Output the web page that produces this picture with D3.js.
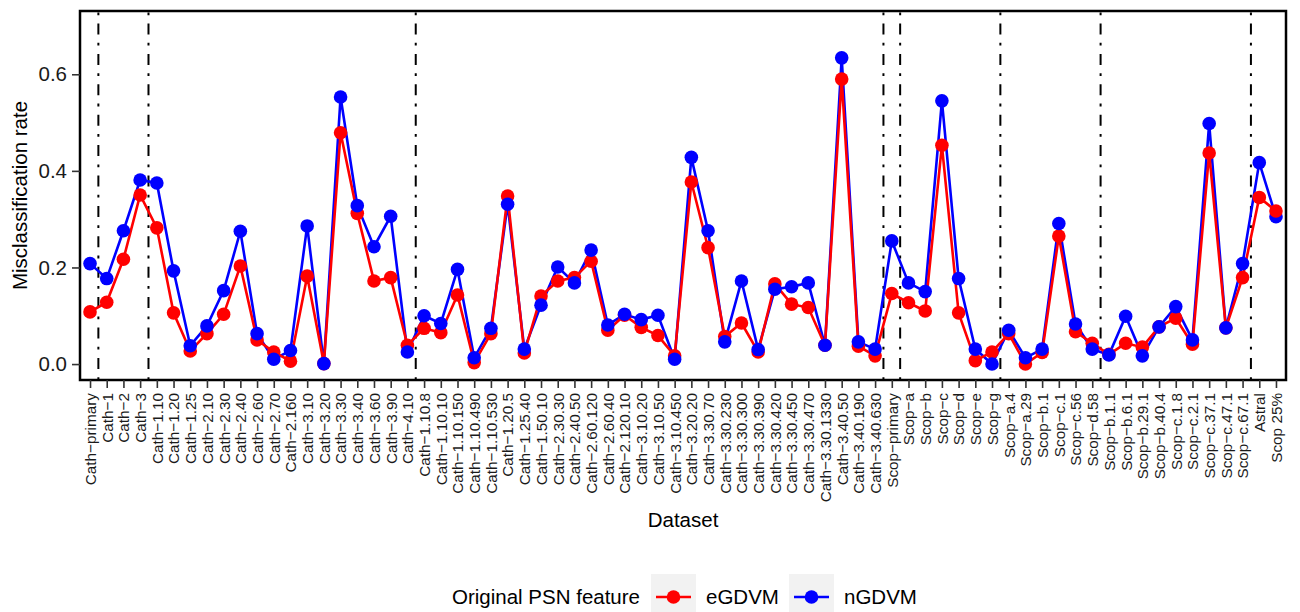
<!DOCTYPE html>
<html>
<head>
<meta charset="utf-8">
<script src="https://cdn.jsdelivr.net/npm/d3@7.9.0/dist/d3.min.js"></script>
<style>
  body { margin: 0; background: #fff; }
  svg { display: block; font-family: "Liberation Sans", Arial, Helvetica, sans-serif; }
</style>
</head>
<body>
<div id="chart"></div>
<script>
// datasets along the x axis
const categories = [
  'Cath-primary', 'Cath-1', 'Cath-2', 'Cath-3',
  'Cath-1.10', 'Cath-1.20', 'Cath-1.25', 'Cath-2.10', 'Cath-2.30', 'Cath-2.40', 'Cath-2.60', 'Cath-2.70',
  'Cath-2.160', 'Cath-3.10', 'Cath-3.20', 'Cath-3.30', 'Cath-3.40', 'Cath-3.60', 'Cath-3.90', 'Cath-4.10',
  'Cath-1.10.8', 'Cath-1.10.10', 'Cath-1.10.150', 'Cath-1.10.490', 'Cath-1.10.530', 'Cath-1.20.5',
  'Cath-1.25.40', 'Cath-1.50.10', 'Cath-2.30.30', 'Cath-2.40.50', 'Cath-2.60.120', 'Cath-2.60.40',
  'Cath-2.120.10', 'Cath-3.10.20', 'Cath-3.10.50', 'Cath-3.10.450', 'Cath-3.20.20', 'Cath-3.30.70',
  'Cath-3.30.230', 'Cath-3.30.300', 'Cath-3.30.390', 'Cath-3.30.420', 'Cath-3.30.450', 'Cath-3.30.470',
  'Cath-3.30.1330', 'Cath-3.40.50', 'Cath-3.40.190', 'Cath-3.40.630',
  'Scop-primary', 'Scop-a', 'Scop-b', 'Scop-c', 'Scop-d', 'Scop-e', 'Scop-g',
  'Scop-a.4', 'Scop-a.29', 'Scop-b.1', 'Scop-c.1', 'Scop-c.56', 'Scop-d.58',
  'Scop-b.1.1', 'Scop-b.6.1', 'Scop-b.29.1', 'Scop-b.40.4', 'Scop-c.1.8', 'Scop-c.2.1', 'Scop-c.37.1',
  'Scop-c.47.1', 'Scop-c.67.1', 'Astral', 'Scop 25%'
];

// misclassification rates
const eGDVM = [
  0.108, 0.128, 0.217, 0.350,
  0.282, 0.106, 0.027, 0.063, 0.103, 0.203, 0.050, 0.025,
  0.006, 0.182, 0.001, 0.479, 0.312, 0.172, 0.179, 0.039,
  0.074, 0.065, 0.143, 0.003, 0.063, 0.348,
  0.023, 0.141, 0.172, 0.179, 0.213, 0.070,
  0.101, 0.076, 0.059, 0.017, 0.377, 0.241,
  0.057, 0.085, 0.025, 0.166, 0.124, 0.117,
  0.039, 0.590, 0.037, 0.017,
  0.146, 0.127, 0.110, 0.453, 0.106, 0.007, 0.025,
  0.063, 0.000, 0.024, 0.265, 0.067, 0.043,
  0.020, 0.043, 0.035, 0.077, 0.095, 0.041, 0.437,
  0.075, 0.179, 0.345, 0.317
];
const nGDVM = [
  0.208, 0.177, 0.276, 0.381,
  0.375, 0.193, 0.038, 0.079, 0.152, 0.275, 0.063, 0.010,
  0.028, 0.286, 0.001, 0.553, 0.328, 0.243, 0.306, 0.025,
  0.100, 0.084, 0.196, 0.013, 0.074, 0.331,
  0.031, 0.122, 0.201, 0.168, 0.236, 0.081,
  0.103, 0.092, 0.101, 0.010, 0.428, 0.276,
  0.046, 0.172, 0.030, 0.155, 0.160, 0.168,
  0.039, 0.634, 0.046, 0.031,
  0.255, 0.168, 0.150, 0.545, 0.177, 0.031, 0.000,
  0.070, 0.013, 0.031, 0.291, 0.083, 0.031,
  0.019, 0.099, 0.017, 0.077, 0.119, 0.050, 0.498,
  0.075, 0.208, 0.417, 0.305
];

const yTicks = [0, 0.2, 0.4, 0.6];
// a dot-dash separator follows each of these datasets
const separatorsAfter = ['Cath-primary', 'Cath-3', 'Cath-4.10', 'Cath-3.40.630',
  'Scop-primary', 'Scop-g', 'Scop-d.58', 'Scop-c.67.1'];
// where the red point sits on top of the blue one
const redOnTop = ['Scop 25%'];

const seriesNames = ['eGDVM', 'nGDVM'];
const seriesColors = ['#ff0000', '#0000ff'];

const width = 1300;
const height = 612;
const panel = { left: 80, top: 11, right: 1286, bottom: 380 };
const font = '"Liberation Sans", Arial, Helvetica, sans-serif';
const bigText = '20.5px';

const svg = d3.select('#chart')
  .append('svg')
  .attr('width', width)
  .attr('height', height);

const xScale = d3.scalePoint()
  .domain(categories)
  .range([panel.left, panel.right])
  .padding(0.6);

const yScale = d3.scaleLinear()
  .domain([-0.033, 0.731])
  .range([panel.bottom, panel.top]);

const step = xScale.step();

// separators
svg.append('g')
  .selectAll('line')
  .data(separatorsAfter)
  .join('line')
  .attr('x1', (d) => xScale(d) + step / 2)
  .attr('x2', (d) => xScale(d) + step / 2)
  .attr('y1', panel.bottom)
  .attr('y2', panel.top)
  .attr('stroke', '#000')
  .attr('stroke-width', 2)
  .attr('stroke-dasharray', '2.8 8.3 11 8.3');

const rows = categories.map((c, i) => ({ cat: c, e: eGDVM[i], n: nGDVM[i] }));

// lines: blue first, red over it
const line = (key) => d3.line()
  .x((d) => xScale(d.cat))
  .y((d) => yScale(d[key]));

svg.append('path')
  .datum(rows)
  .attr('d', line('n'))
  .attr('fill', 'none')
  .attr('stroke', seriesColors[1])
  .attr('stroke-width', 2.6);

svg.append('path')
  .datum(rows)
  .attr('d', line('e'))
  .attr('fill', 'none')
  .attr('stroke', seriesColors[0])
  .attr('stroke-width', 2.6);

// points, in drawing order per dataset
const pts = rows.flatMap((d) => {
  const red = { cat: d.cat, v: d.e, color: seriesColors[0] };
  const blue = { cat: d.cat, v: d.n, color: seriesColors[1] };
  return redOnTop.includes(d.cat) ? [blue, red] : [red, blue];
});

svg.append('g')
  .selectAll('circle')
  .data(pts)
  .join('circle')
  .attr('cx', (d) => xScale(d.cat))
  .attr('cy', (d) => yScale(d.v))
  .attr('r', 6.8)
  .attr('fill', (d) => d.color);

// panel border
svg.append('rect')
  .attr('x', panel.left)
  .attr('y', panel.top)
  .attr('width', panel.right - panel.left)
  .attr('height', panel.bottom - panel.top)
  .attr('fill', 'none')
  .attr('stroke', '#000')
  .attr('stroke-width', 2.5);

// y axis
const yAxis = svg.append('g')
  .attr('transform', `translate(${panel.left}, 0)`)
  .call(d3.axisLeft(yScale).tickValues(yTicks).tickFormat(d3.format('.1f')).tickSize(8).tickPadding(5));
yAxis.select('.domain').remove();
yAxis.selectAll('line').attr('stroke', '#333').attr('stroke-width', 1.6);
yAxis.selectAll('text')
  .attr('fill', '#1a1a1a')
  .style('font-family', font)
  .style('font-size', bigText);

// x axis
const xAxis = svg.append('g')
  .attr('transform', `translate(0, ${panel.bottom})`)
  .call(d3.axisBottom(xScale).tickSize(8).tickFormat((d) => d.replace(/-/g, '\u2212')));
xAxis.select('.domain').remove();
xAxis.selectAll('line').attr('stroke', '#333').attr('stroke-width', 1.6);
xAxis.selectAll('text')
  .attr('transform', 'rotate(-90)')
  .attr('x', -13)
  .attr('y', 0)
  .attr('dy', '0.35em')
  .attr('text-anchor', 'end')
  .attr('fill', '#1a1a1a')
  .style('font-family', font)
  .style('font-size', '15.3px');

// axis titles
svg.append('text')
  .attr('x', (panel.left + panel.right) / 2)
  .attr('y', 527)
  .attr('text-anchor', 'middle')
  .style('font-size', bigText)
  .text('Dataset');

svg.append('text')
  .attr('transform', `translate(27, ${(panel.top + panel.bottom) / 2}) rotate(-90)`)
  .attr('text-anchor', 'middle')
  .style('font-size', bigText)
  .text('Misclassification rate');

// legend
const legend = svg.append('g').attr('transform', 'translate(452, 597)');
legend.append('text')
  .attr('x', 0)
  .attr('dy', '0.35em')
  .style('font-size', bigText)
  .text('Original PSN feature');

const keyX = [199, 337];
seriesNames.forEach((name, i) => {
  const k = legend.append('g').attr('transform', `translate(${keyX[i]}, 0)`);
  k.append('rect')
    .attr('x', 0).attr('y', -23)
    .attr('width', 45).attr('height', 46)
    .attr('fill', '#f2f2f2');
  k.append('line')
    .attr('x1', 5).attr('x2', 40)
    .attr('stroke', seriesColors[i])
    .attr('stroke-width', 2.6);
  k.append('circle')
    .attr('cx', 22.5)
    .attr('r', 6.8)
    .attr('fill', seriesColors[i]);
  k.append('text')
    .attr('x', 55)
    .attr('dy', '0.35em')
    .style('font-size', bigText)
    .text(name);
});
</script>
</body>
</html>
